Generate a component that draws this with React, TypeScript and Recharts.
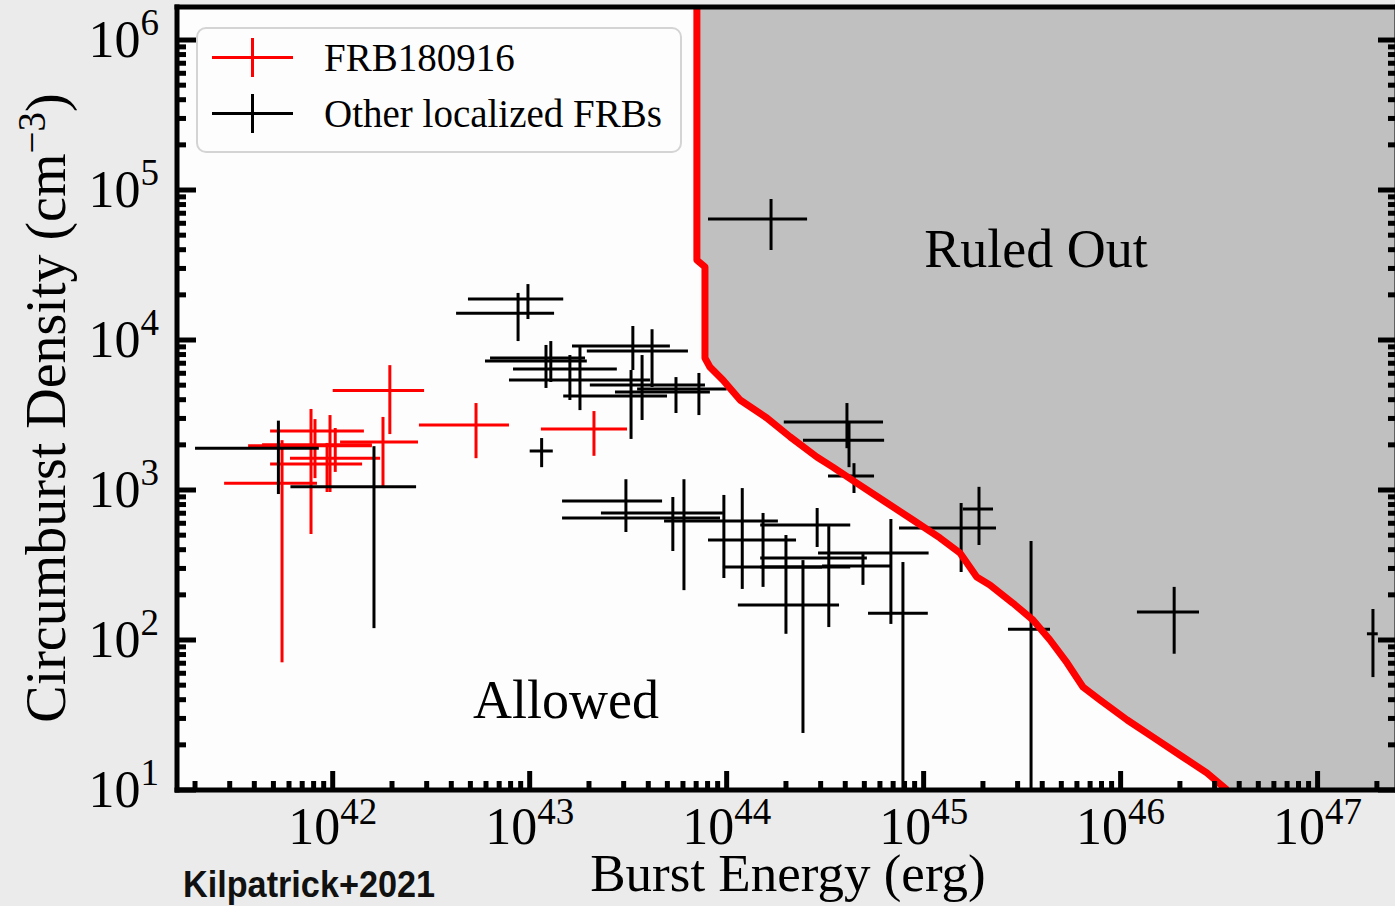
import React from "react";
import {
  Area,
  CartesianGrid,
  ComposedChart,
  ErrorBar,
  Line,
  Scatter,
  XAxis,
  YAxis,
} from "recharts";

const X_MIN = 1.62e41;
const X_MAX = 2.53e47;
const Y_MIN = 10;
const Y_MAX = 1.66e6;

const xDecades = [1e41, 1e42, 1e43, 1e44, 1e45, 1e46, 1e47];
const yDecades = [1e1, 1e2, 1e3, 1e4, 1e5, 1e6];
const minorSteps = [1, 2, 3, 4, 5, 6, 7, 8, 9];

// [E, E low, E high, n, n low, n high]
const frb180916 = [
  [1.95e42, 1.0e42, 2.91e42, 4600, 2360, 6800],
  [5.34e42, 2.74e42, 7.85e42, 2710, 1630, 3800],
  [2.12e43, 1.14e43, 3.12e43, 2550, 1690, 3360],
  [1.8e42, 1.09e42, 2.71e42, 2090, 1060, 3070],
  [7.76e41, 4.81e41, 1.41e42, 1490, 509, 3470],
  [9.69e41, 4.81e41, 1.44e42, 2470, 970, 3160],
  [1.03e42, 4.38e41, 1.58e42, 2000, 1320, 2590],
  [8.13e41, 3.72e41, 1.58e42, 1970, 1200, 2970],
  [5.53e41, 2.81e41, 8.32e41, 1110, 71, 2150],
  [9.36e41, 6.07e41, 1.74e42, 1630, 970, 2060],
];

const otherFrbs = [
  [5.3e41, 2.0e41, 8.5e41, 1900, 940, 2900],
  [1.62e42, 6.1e41, 2.65e42, 1050, 120, 1960],
  [9.8e42, 4.86e42, 1.48e43, 1.88e4, 1.38e4, 2.36e4],
  [8.73e42, 4.23e42, 1.33e43, 1.51e4, 9840, 2.06e4],
  [1.15e43, 1.0e43, 1.31e43, 1820, 1420, 2220],
  [1.21e43, 5.93e42, 1.95e43, 7240, 4790, 9270],
  [1.28e43, 6.29e42, 1.91e43, 7590, 5250, 9840],
  [1.6e43, 8.23e42, 2.77e43, 6410, 3980, 7940],
  [1.8e43, 7.85e42, 4.08e43, 5410, 3410, 8980],
  [3.34e43, 1.64e43, 5.15e43, 9120, 6310, 1.24e4],
  [4.18e43, 1.95e43, 6.36e43, 8450, 4860, 1.18e4],
  [3.27e43, 1.48e43, 4.98e43, 4230, 2190, 6310],
  [3.72e43, 2.02e43, 7.76e43, 5010, 2930, 7940],
  [5.53e43, 2.71e43, 8.22e43, 4500, 3260, 5660],
  [7.23e43, 3.51e43, 1.0e44, 4710, 3160, 6030],
  [1.68e44, 8.04e43, 2.56e44, 6.41e4, 3.98e4, 8.71e4],
  [4.08e44, 1.95e44, 6.22e44, 2840, 1900, 3800],
  [4.18e44, 2.44e44, 6.3e44, 2150, 1420, 2800],
  [4.43e44, 3.27e44, 5.6e44, 1240, 955, 1510],
  [3.08e43, 1.46e43, 4.7e43, 845, 525, 1180],
  [5.33e43, 2.3e43, 9.57e43, 703, 392, 898],
  [6.07e43, 1.46e43, 9.25e43, 650, 215, 1180],
  [9.68e43, 4.81e43, 1.82e44, 621, 259, 927],
  [1.2e44, 8.04e43, 2.25e44, 464, 219, 1030],
  [1.53e44, 9.57e43, 3.05e44, 307, 226, 703],
  [2.0e44, 1.14e44, 3.72e44, 171, 110, 501],
  [2.44e44, 1.48e44, 4.24e44, 307, 24, 341],
  [2.88e44, 1.48e44, 4.24e44, 585, 417, 759],
  [3.3e44, 1.48e44, 5.15e44, 352, 122, 575],
  [4.92e44, 3.05e44, 6.75e44, 311, 233, 374],
  [6.82e44, 2.91e44, 1.06e45, 380, 128, 641],
  [7.85e44, 5.22e44, 1.05e45, 151, 10, 331],
  [1.55e45, 7.5e44, 2.33e45, 558, 284, 819],
  [1.91e45, 1.58e45, 2.25e45, 747, 430, 1050],
  [3.51e45, 2.68e45, 4.38e45, 118, 10, 457],
  [1.87e46, 1.21e46, 2.5e46, 154, 81, 226],
  [1.91e47, 1.78e47, 2.02e47, 110, 56.6, 161],
];

// ruled-out boundary
const boundaryE = [
  7.06e43, 7.06e43, 7.76e43, 7.76e43, 8.22e43, 9.57e43, 1.17e44, 1.6e44,
  2.1e44, 2.87e44, 3.46e44, 4.58e44, 6.52e44, 8.83e44, 1.21e45, 1.53e45,
  1.86e45, 2.17e45, 2.84e45, 3.59e45, 4.38e45, 5.35e45, 6.44e45, 7.86e45,
  1.08e46, 1.46e46, 2.07e46, 2.74e46, 3.47e46,
];
const boundaryN = [
  Y_MAX, 3.41e4, 3.07e4, 7590, 6610, 5410, 3980, 3020, 2260, 1660, 1420, 1110,
  819, 631, 479, 380, 263, 233, 176, 136, 100, 70.3, 48.6, 39.8, 29.3, 22.5,
  16.6, 13.0, 10,
];

const boundary: any[] = boundaryE.map((e, i) => ({
  e,
  n: boundaryN[i],
  band: [boundaryN[i], Y_MAX],
}));
boundary.push({ e: X_MAX, band: [Y_MIN, Y_MAX] });

const toPoint = ([e, eLo, eHi, n, nLo, nHi]: number[]) => ({
  e,
  n,
  ex: [e - eLo, eHi - e],
  ey: [n - nLo, nHi - n],
});
const redPoints = frb180916.map(toPoint);
const blackPoints = otherFrbs.map(toPoint);

function logTicks(decades: number[], lo: number, hi: number) {
  const out: number[] = [];
  decades.forEach((d) =>
    minorSteps.forEach((m) => {
      const v = m * d;
      if (v >= lo && v <= hi) out.push(v);
    })
  );
  return out;
}
const xTicks = logTicks(xDecades, X_MIN, X_MAX);
const yTicks = logTicks(yDecades, Y_MIN, Y_MAX);

const isMajor = (v: number) =>
  Math.abs(Math.log10(v) - Math.round(Math.log10(v))) < 1e-6;
const expOf = (v: number) => Math.round(Math.log10(v));

const SERIF = "'Liberation Serif', 'Times New Roman', serif";
const MAJOR = 21;
const MINOR = 11;
const TICK_W = 5;

const BottomTick = ({ x, y, payload }: any) => {
  const major = isMajor(payload.value);
  return (
    <g>
      <line x1={x} x2={x} y1={y} y2={y - (major ? MAJOR : MINOR)} stroke="#000" strokeWidth={TICK_W} />
      {major && (
        <text x={x} y={y + 52} textAnchor="middle" fontFamily={SERIF} fontSize={52} fill="#000">
          10
          <tspan dy={-20} fontSize={37}>
            {expOf(payload.value)}
          </tspan>
        </text>
      )}
    </g>
  );
};

const TopTick = ({ x, y, payload }: any) => {
  const major = isMajor(payload.value);
  return (
    <line x1={x} x2={x} y1={y} y2={y + (major ? MAJOR : MINOR)} stroke="#000" strokeWidth={TICK_W} />
  );
};

const LeftTick = ({ x, y, payload }: any) => {
  const major = isMajor(payload.value);
  return (
    <g>
      <line x1={x} x2={x + (major ? MAJOR : MINOR)} y1={y} y2={y} stroke="#000" strokeWidth={TICK_W} />
      {major && (
        <text x={x - 16} y={y + 17} textAnchor="end" fontFamily={SERIF} fontSize={52} fill="#000">
          10
          <tspan dy={-22} fontSize={37}>
            {expOf(payload.value)}
          </tspan>
        </text>
      )}
    </g>
  );
};

const RightTick = ({ x, y, payload }: any) => {
  const major = isMajor(payload.value);
  return (
    <line x1={x} x2={x - (major ? MAJOR : MINOR)} y1={y} y2={y} stroke="#000" strokeWidth={TICK_W} />
  );
};

const Blank = () => <g />;

const spine = { stroke: "#000", strokeWidth: 5, strokeLinecap: "square" as const };

const LegendCross = ({ x, y, color }: { x: number; y: number; color: string }) => (
  <g stroke={color} strokeWidth={3}>
    <line x1={x} x2={x + 81} y1={y} y2={y} />
    <line x1={x + 40.5} x2={x + 40.5} y1={y - 19.5} y2={y + 19.5} />
  </g>
);

export default function App() {
  return (
    <div
      style={{
        position: "absolute",
        left: 0,
        top: 0,
        width: 1395,
        height: 906,
        overflow: "hidden",
        background: "#ebebeb",
      }}
    >
      <ComposedChart
        width={1400}
        height={906}
        data={boundary}
        margin={{ top: 6, right: 2, bottom: 0, left: 0 }}
      >
        <CartesianGrid fill="#fdfdfd" horizontal={false} vertical={false} />
        <Area
          type="linear"
          dataKey="band"
          stroke="none"
          fill="#c0c0c0"
          fillOpacity={1}
          isAnimationActive={false}
        />
        <Scatter data={redPoints} shape={Blank} isAnimationActive={false}>
          <ErrorBar dataKey="ex" direction="x" width={0} stroke="#ff0000" strokeWidth={3} />
          <ErrorBar dataKey="ey" direction="y" width={0} stroke="#ff0000" strokeWidth={3} />
        </Scatter>
        <Scatter data={blackPoints} shape={Blank} isAnimationActive={false}>
          <ErrorBar dataKey="ex" direction="x" width={0} stroke="#000" strokeWidth={3} />
          <ErrorBar dataKey="ey" direction="y" width={0} stroke="#000" strokeWidth={3} />
        </Scatter>
        <Line
          type="linear"
          dataKey="n"
          stroke="#ff0000"
          strokeWidth={7}
          strokeLinejoin="round"
          dot={false}
          activeDot={false}
          isAnimationActive={false}
        />
        <XAxis
          dataKey="e"
          type="number"
          scale="log"
          domain={[X_MIN, X_MAX]}
          allowDataOverflow
          ticks={xTicks}
          interval={0}
          height={116}
          tickSize={0}
          tickLine={false}
          axisLine={spine}
          tick={(p: any) => <BottomTick {...p} />}
        />
        <XAxis
          xAxisId="top"
          orientation="top"
          type="number"
          scale="log"
          domain={[X_MIN, X_MAX]}
          allowDataOverflow
          ticks={xTicks}
          interval={0}
          height={1}
          tickSize={0}
          tickLine={false}
          axisLine={spine}
          tick={(p: any) => <TopTick {...p} />}
        />
        <YAxis
          dataKey="n"
          type="number"
          scale="log"
          domain={[Y_MIN, Y_MAX]}
          allowDataOverflow
          ticks={yTicks}
          interval={0}
          width={177}
          tickSize={0}
          tickLine={false}
          axisLine={spine}
          tick={(p: any) => <LeftTick {...p} />}
        />
        <YAxis
          yAxisId="right"
          orientation="right"
          type="number"
          scale="log"
          domain={[Y_MIN, Y_MAX]}
          allowDataOverflow
          ticks={yTicks}
          interval={0}
          width={1}
          tickSize={0}
          tickLine={false}
          axisLine={spine}
          tick={(p: any) => <RightTick {...p} />}
        />
      </ComposedChart>

      <svg
        width={1395}
        height={906}
        style={{ position: "absolute", left: 0, top: 0, pointerEvents: "none" }}
      >
        <rect x={197} y={28} width={484} height={124} rx={9} fill="#fdfdfd" fillOpacity={0.9} stroke="#d4d4d4" strokeWidth={2} />
        <LegendCross x={212} y={57.5} color="#ff0000" />
        <LegendCross x={212} y={113.5} color="#000" />
        <text x={324} y={71} fontFamily={SERIF} fontSize={39} fill="#000">
          FRB180916
        </text>
        <text x={324} y={127} fontFamily={SERIF} fontSize={39} fill="#000">
          Other localized FRBs
        </text>

        <text x={1036} y={267} textAnchor="middle" fontFamily={SERIF} fontSize={54} fill="#000">
          Ruled Out
        </text>
        <text x={566} y={718} textAnchor="middle" fontFamily={SERIF} fontSize={54} fill="#000">
          Allowed
        </text>

        <text x={788} y={891} textAnchor="middle" fontFamily={SERIF} fontSize={53} fill="#000">
          Burst Energy (erg)
        </text>
        <text
          transform="rotate(-90)"
          x={-408}
          y={65}
          textAnchor="middle"
          fontFamily={SERIF}
          fontSize={56}
          fill="#000"
        >
          Circumburst Density (cm
          <tspan dy={-20} fontSize={39}>
            −3
          </tspan>
          <tspan dy={20}>)</tspan>
        </text>

        <text
          x={183}
          y={897}
          fontFamily="'Liberation Sans', Arial, sans-serif"
          fontWeight="bold"
          fontSize={37}
          textLength={252}
          lengthAdjust="spacingAndGlyphs"
          fill="#111"
        >
          Kilpatrick+2021
        </text>
      </svg>
    </div>
  );
}
